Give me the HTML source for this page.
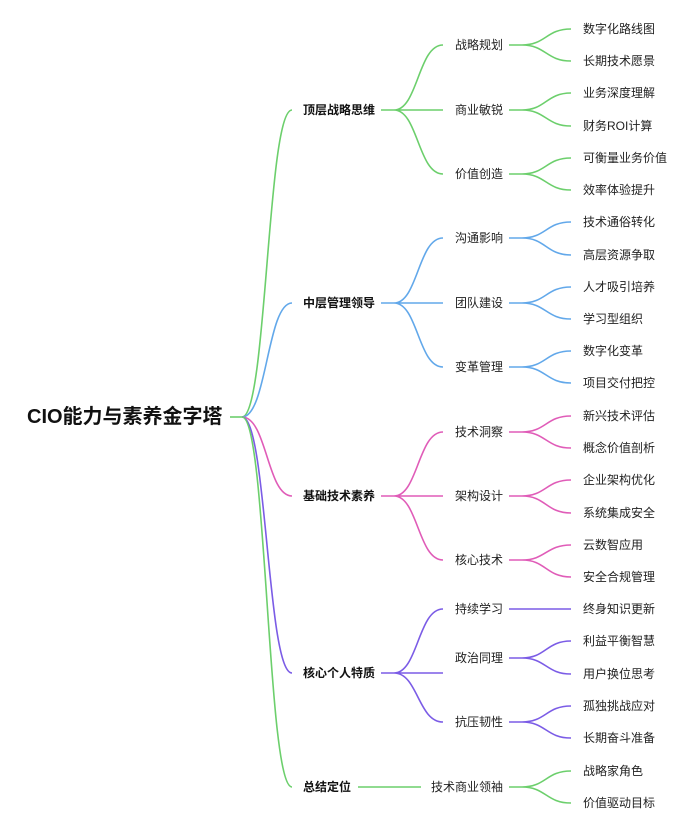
<!DOCTYPE html>
<html><head><meta charset="utf-8"><style>
html,body{margin:0;padding:0;background:#fff;}
svg{display:block;}
text{font-family:"Liberation Sans","Noto Sans CJK SC",sans-serif;fill:#222;dominant-baseline:central;}
.r{font-size:20px;font-weight:bold;fill:#111;}
.a{font-size:12px;font-weight:bold;fill:#111;}
.b,.c{font-size:12px;}
path{fill:none;stroke-width:1.6;}
.g{stroke:#6ccf6c}.u{stroke:#62a8ea}.p{stroke:#e05cb8}.v{stroke:#7b5ce6}
</style></head><body>
<svg width="688" height="822" viewBox="0 0 688 822">
<text class="r" x="27" y="417">CIO能力与素养金字塔</text>
<path class="g" d="M230,417 L242,417"/>
<path class="g" d="M242,417 C267,417 267,110 292,110"/>
<path class="u" d="M242,417 C267,417 267,303 292,303"/>
<path class="p" d="M242,417 C267,417 267,496 292,496"/>
<path class="v" d="M242,417 C267,417 267,673 292,673"/>
<path class="g" d="M242,417 C267,417 267,787 292,787"/>

<text class="a" x="303" y="110">顶层战略思维</text>
<text class="a" x="303" y="303">中层管理领导</text>
<text class="a" x="303" y="496">基础技术素养</text>
<text class="a" x="303" y="673">核心个人特质</text>
<text class="a" x="303" y="787">总结定位</text>

<path class="g" d="M381,110 L394,110 C418,110 418,45 443,45 M394,110 L443,110 M394,110 C418,110 418,174 443,174"/>
<path class="u" d="M381,303 L394,303 C418,303 418,238 443,238 M394,303 L443,303 M394,303 C418,303 418,367 443,367"/>
<path class="p" d="M381,496 L394,496 C418,496 418,432 443,432 M394,496 L443,496 M394,496 C418,496 418,560 443,560"/>
<path class="v" d="M381,673 L394,673 C418,673 418,609 443,609 M394,673 L443,673 M394,673 C418,673 418,722 443,722"/>
<path class="g" d="M358,787 L421,787"/>

<text class="b" x="455" y="45">战略规划</text>
<text class="b" x="455" y="110">商业敏锐</text>
<text class="b" x="455" y="174">价值创造</text>
<text class="b" x="455" y="238">沟通影响</text>
<text class="b" x="455" y="303">团队建设</text>
<text class="b" x="455" y="367">变革管理</text>
<text class="b" x="455" y="432">技术洞察</text>
<text class="b" x="455" y="496">架构设计</text>
<text class="b" x="455" y="560">核心技术</text>
<text class="b" x="455" y="609">持续学习</text>
<text class="b" x="455" y="658">政治同理</text>
<text class="b" x="455" y="722">抗压韧性</text>
<text class="b" x="431" y="787">技术商业领袖</text>

<path class="g" d="M509,45 L522,45 C546,45 546,29 571,29 M522,45 C546,45 546,61 571,61"/>
<path class="g" d="M509,110 L522,110 C546,110 546,93 571,93 M522,110 C546,110 546,126 571,126"/>
<path class="g" d="M509,174 L522,174 C546,174 546,158 571,158 M522,174 C546,174 546,190 571,190"/>
<path class="u" d="M509,238 L522,238 C546,238 546,222 571,222 M522,238 C546,238 546,255 571,255"/>
<path class="u" d="M509,303 L522,303 C546,303 546,287 571,287 M522,303 C546,303 546,319 571,319"/>
<path class="u" d="M509,367 L522,367 C546,367 546,351 571,351 M522,367 C546,367 546,383 571,383"/>
<path class="p" d="M509,432 L522,432 C546,432 546,416 571,416 M522,432 C546,432 546,448 571,448"/>
<path class="p" d="M509,496 L522,496 C546,496 546,480 571,480 M522,496 C546,496 546,513 571,513"/>
<path class="p" d="M509,560 L522,560 C546,560 546,545 571,545 M522,560 C546,560 546,577 571,577"/>
<path class="v" d="M509,609 L571,609"/>
<path class="v" d="M509,658 L522,658 C546,658 546,641 571,641 M522,658 C546,658 546,674 571,674"/>
<path class="v" d="M509,722 L522,722 C546,722 546,706 571,706 M522,722 C546,722 546,738 571,738"/>
<path class="g" d="M509,787 L522,787 C546,787 546,771 571,771 M522,787 C546,787 546,803 571,803"/>

<text class="c" x="583" y="29">数字化路线图</text>
<text class="c" x="583" y="61">长期技术愿景</text>
<text class="c" x="583" y="93">业务深度理解</text>
<text class="c" x="583" y="126">财务ROI计算</text>
<text class="c" x="583" y="158">可衡量业务价值</text>
<text class="c" x="583" y="190">效率体验提升</text>
<text class="c" x="583" y="222">技术通俗转化</text>
<text class="c" x="583" y="255">高层资源争取</text>
<text class="c" x="583" y="287">人才吸引培养</text>
<text class="c" x="583" y="319">学习型组织</text>
<text class="c" x="583" y="351">数字化变革</text>
<text class="c" x="583" y="383">项目交付把控</text>
<text class="c" x="583" y="416">新兴技术评估</text>
<text class="c" x="583" y="448">概念价值剖析</text>
<text class="c" x="583" y="480">企业架构优化</text>
<text class="c" x="583" y="513">系统集成安全</text>
<text class="c" x="583" y="545">云数智应用</text>
<text class="c" x="583" y="577">安全合规管理</text>
<text class="c" x="583" y="609">终身知识更新</text>
<text class="c" x="583" y="641">利益平衡智慧</text>
<text class="c" x="583" y="674">用户换位思考</text>
<text class="c" x="583" y="706">孤独挑战应对</text>
<text class="c" x="583" y="738">长期奋斗准备</text>
<text class="c" x="583" y="771">战略家角色</text>
<text class="c" x="583" y="803">价值驱动目标</text>
</svg>
</body></html>
